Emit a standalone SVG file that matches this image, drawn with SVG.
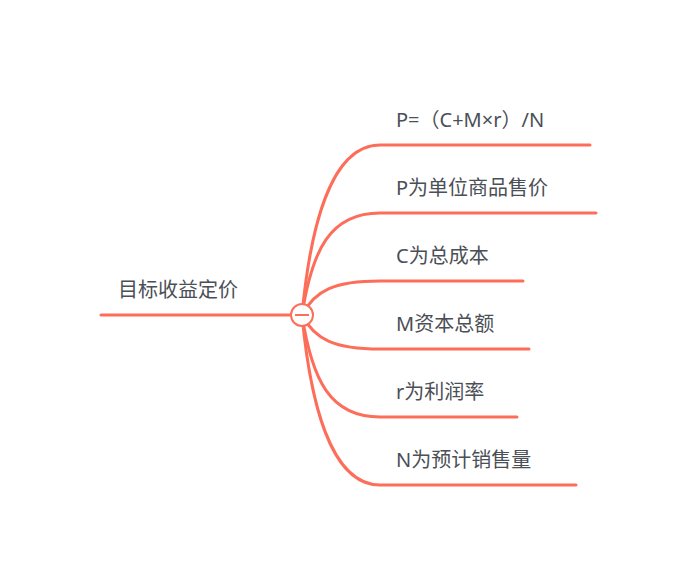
<svg xmlns="http://www.w3.org/2000/svg" width="696" height="588" viewBox="0 0 696 588">
<style>
.c{fill:none;stroke:#fd6e5a;stroke-width:3;stroke-linecap:round}
.t{font-family:"Noto Sans","Noto Sans CJK SC",sans-serif;font-size:20px;fill:#4b4f56}
</style>
<rect width="696" height="588" fill="#fff"/>
<g id="connectors">
<path class="c" d="M101 315H290"/>
<path class="c" d="M302 315C310 230 330 145 380 145H590"/>
<path class="c" d="M302 315C312 250 330 213 380 213H596"/>
<path class="c" d="M302 315C315 290 335 281 380 281H523"/>
<path class="c" d="M302 315C315 340 335 349 380 349H529"/>
<path class="c" d="M302 315C312 380 330 417 380 417H517"/>
<path class="c" d="M302 315C310 400 330 485 380 485H576"/>
</g>
<g id="root"><text class="t" x="118" y="297">目标收益定价</text>
<circle cx="302" cy="315" r="11" fill="#fff" stroke="#fd6e5a" stroke-width="2"/>
<path d="M295 315H309" stroke="#fd6e5a" stroke-width="2"/></g>
<g id="n1"><text class="t" x="396" y="127">P=（C+M×r）/N</text></g>
<g id="n2"><text class="t" x="396" y="195">P为单位商品售价</text></g>
<g id="n3"><text class="t" x="396" y="263">C为总成本</text></g>
<g id="n4"><text class="t" x="396" y="331">M资本总额</text></g>
<g id="n5"><text class="t" x="396" y="399">r为利润率</text></g>
<g id="n6"><text class="t" x="396" y="467">N为预计销售量</text></g>
</svg>
